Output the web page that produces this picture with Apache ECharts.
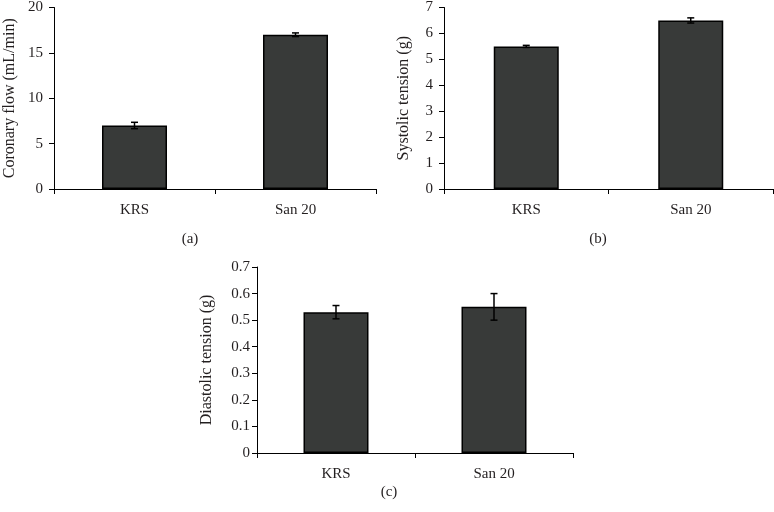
<!DOCTYPE html>
<html><head><meta charset="utf-8">
<script src="https://cdn.jsdelivr.net/npm/echarts@6/dist/echarts.min.js"></script>
<style>html,body{margin:0;padding:0;background:#fff}#c{width:774px;height:512px}</style>
</head><body><div id="c"></div>
<script>
var categories = ['KRS', 'San 20'];
var flowMean = [7.0, 17.0];
var flowErr = [0.35, 0.2];
var systolicMean = [5.5, 6.5];
var systolicErr = [0.04, 0.1];
var diastolicMean = [0.53, 0.55];
var diastolicErr = [0.025, 0.05];
var flowTicks = {min: 0, max: 20, interval: 5};
var systolicTicks = {min: 0, max: 7, interval: 1};
var diastolicTicks = {min: 0, max: 0.7, interval: 0.1};
var captions = ['(a)', '(b)', '(c)'];

var FONT = '"Liberation Serif", "DejaVu Serif", serif';
var TXT = '#231f20';
var chart = echarts.init(document.getElementById('c'), null, {renderer: 'canvas'});

var grids = [
  {left: 54, top: 4, width: 322, height: 185},
  {left: 444, top: 4, width: 329, height: 185},
  {left: 257, top: 267, width: 316, height: 186}
];
var names = ['Coronary flow (mL/min)', 'Systolic tension (g)', 'Diastolic tension (g)'];
var gaps = [36, 32, 42];
var lblMargins = [11, 11, 7];
var ticks = [flowTicks, systolicTicks, diastolicTicks];
var means = [flowMean, systolicMean, diastolicMean];
var errs = [flowErr, systolicErr, diastolicErr];

var xAxes = [], yAxes = [], series = [];
for (var i = 0; i < 3; i++) {
  xAxes.push({
    type: 'category', gridIndex: i, data: categories,
    axisLine: {lineStyle: {color: '#000', width: 1}},
    axisTick: {show: true, inside: false, length: 5, lineStyle: {color: '#000'}, alignWithLabel: false},
    axisLabel: {color: TXT, fontFamily: FONT, fontSize: 15, margin: 14},
    splitLine: {show: false}
  });
  yAxes.push({
    type: 'value', gridIndex: i, min: ticks[i].min, max: ticks[i].max, interval: ticks[i].interval,
    name: names[i], nameLocation: 'middle', nameGap: gaps[i],
    nameTextStyle: {color: TXT, fontFamily: FONT, fontSize: 16},
    axisLine: {show: true, lineStyle: {color: '#000', width: 1}},
    axisTick: {show: true, length: 5, lineStyle: {color: '#000'}},
    axisLabel: {color: TXT, fontFamily: FONT, fontSize: 15, margin: lblMargins[i]},
    splitLine: {show: false}
  });
  series.push({
    type: 'bar', xAxisIndex: i, yAxisIndex: i, data: means[i], barWidth: 65,
    itemStyle: {color: '#383a39', borderColor: '#000', borderWidth: 1.5},
    silent: true, animation: false
  });
  (function (idx) {
    series.push({
      type: 'custom', xAxisIndex: idx, yAxisIndex: idx, silent: true, animation: false,
      data: means[idx].map(function (m, j) { return [j, m - errs[idx][j], m + errs[idx][j]]; }),
      renderItem: function (params, api) {
        var lo = api.coord([api.value(0), api.value(1)]);
        var hi = api.coord([api.value(0), api.value(2)]);
        var hw = 3.5;
        var st = {stroke: '#000', lineWidth: 1.5};
        return {type: 'group', children: [
          {type: 'line', shape: {x1: lo[0], y1: lo[1], x2: hi[0], y2: hi[1]}, style: st},
          {type: 'line', shape: {x1: lo[0] - hw, y1: lo[1], x2: lo[0] + hw, y2: lo[1]}, style: st},
          {type: 'line', shape: {x1: hi[0] - hw, y1: hi[1], x2: hi[0] + hw, y2: hi[1]}, style: st}
        ]};
      },
      z: 5
    });
  })(i);
}

var capPos = [[190, 239], [598, 239], [389, 492]];
var graphics = captions.map(function (t, k) {
  return {type: 'text', x: capPos[k][0], y: capPos[k][1],
    style: {text: t, fill: TXT, font: '15px ' + FONT, textAlign: 'center', textVerticalAlign: 'middle'}};
});

chart.setOption({
  animation: false,
  backgroundColor: '#fff',
  grid: grids,
  xAxis: xAxes,
  yAxis: yAxes,
  series: series,
  graphic: graphics
});
</script></body></html>
